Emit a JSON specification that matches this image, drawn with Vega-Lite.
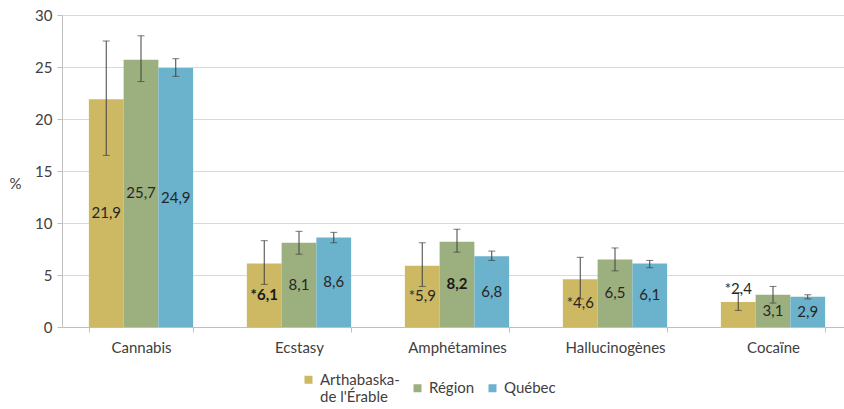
{
  "$schema": "https://vega.github.io/schema/vega-lite/v6.json",
  "width": 790,
  "height": 312,
  "autosize": "none",
  "padding": {"left": 62, "top": 15, "right": 0, "bottom": 82},
  "background": "white",
  "config": {
    "font": "Lato",
    "view": {"stroke": null},
    "axis": {"labelFont": "Lato", "labelFontSize": 15, "labelColor": "#404040", "titleFont": "Lato", "domainColor": "#BFBFBF", "tickColor": "#BFBFBF", "gridColor": "#D9D9D9"}
  },
  "data": {
    "values": [
      {"cat": "Cannabis", "grp": "Arthabaska-de l'Érable", "value": 21.9, "lo": 16.5, "hi": 27.5, "label": "21,9", "sig": 0},
      {"cat": "Cannabis", "grp": "Région", "value": 25.7, "lo": 23.6, "hi": 28.0, "label": "25,7", "sig": 0},
      {"cat": "Cannabis", "grp": "Québec", "value": 24.9, "lo": 24.1, "hi": 25.8, "label": "24,9", "sig": 0},
      {"cat": "Ecstasy", "grp": "Arthabaska-de l'Érable", "value": 6.1, "lo": 4.1, "hi": 8.3, "label": "*6,1", "sig": 1},
      {"cat": "Ecstasy", "grp": "Région", "value": 8.1, "lo": 7.0, "hi": 9.2, "label": "8,1", "sig": 0},
      {"cat": "Ecstasy", "grp": "Québec", "value": 8.6, "lo": 8.1, "hi": 9.1, "label": "8,6", "sig": 0},
      {"cat": "Amphétamines", "grp": "Arthabaska-de l'Érable", "value": 5.9, "lo": 3.9, "hi": 8.1, "label": "*5,9", "sig": 0},
      {"cat": "Amphétamines", "grp": "Région", "value": 8.2, "lo": 7.2, "hi": 9.4, "label": "8,2", "sig": 1},
      {"cat": "Amphétamines", "grp": "Québec", "value": 6.8, "lo": 6.4, "hi": 7.3, "label": "6,8", "sig": 0},
      {"cat": "Hallucinogènes", "grp": "Arthabaska-de l'Érable", "value": 4.6, "lo": 2.7, "hi": 6.7, "label": "*4,6", "sig": 0},
      {"cat": "Hallucinogènes", "grp": "Région", "value": 6.5, "lo": 5.4, "hi": 7.6, "label": "6,5", "sig": 0},
      {"cat": "Hallucinogènes", "grp": "Québec", "value": 6.1, "lo": 5.7, "hi": 6.4, "label": "6,1", "sig": 0},
      {"cat": "Cocaïne", "grp": "Arthabaska-de l'Érable", "value": 2.4, "lo": 1.6, "hi": 3.3, "label": "*2,4", "sig": 0},
      {"cat": "Cocaïne", "grp": "Région", "value": 3.1, "lo": 2.3, "hi": 3.9, "label": "3,1", "sig": 0},
      {"cat": "Cocaïne", "grp": "Québec", "value": 2.9, "lo": 2.7, "hi": 3.1, "label": "2,9", "sig": 0}
    ]
  },
  "encoding": {
    "x": {
      "field": "cat", "type": "nominal",
      "sort": ["Cannabis", "Ecstasy", "Amphétamines", "Hallucinogènes", "Cocaïne"],
      "scale": {"paddingInner": 0.34, "paddingOuter": 0.17},
      "axis": {"title": null, "labelAngle": 0, "tickBand": "extent", "tickSize": 5, "labelPadding": 8, "domainColor": "#BFBFBF"}
    },
    "xOffset": {
      "field": "grp", "type": "nominal",
      "sort": ["Arthabaska-de l'Érable", "Région", "Québec"],
      "scale": {"paddingInner": 0, "paddingOuter": 0}
    }
  },
  "layer": [
    {
      "mark": {"type": "bar"},
      "encoding": {
        "y": {
          "field": "value", "type": "quantitative",
          "scale": {"domain": [0, 30]},
          "axis": {"values": [0, 5, 10, 15, 20, 25, 30], "title": "%", "titleAngle": 0, "titleFontSize": 15, "titleFontWeight": "normal", "titleColor": "#404040", "titleX": -47, "titleY": 176, "tickSize": 5, "labelPadding": 5}
        },
        "color": {
          "field": "grp", "type": "nominal",
          "scale": {"domain": ["Arthabaska-de l'Érable", "Région", "Québec"], "range": ["#CDB864", "#9CB07F", "#6BB2CC"]},
          "legend": {
            "title": null, "orient": "none", "direction": "horizontal",
            "legendX": 239, "legendY": 357,
            "symbolType": "square", "symbolSize": 64, "symbolStrokeWidth": 0,
            "labelFontSize": 15, "labelColor": "#404040", "labelFont": "Lato",
            "labelExpr": "datum.label == \"Arthabaska-de l'Érable\" ? ['Arthabaska-', \"de l'Érable\"] : datum.label",
            "columnPadding": 10, "labelOffset": 4
          }
        }
      }
    },
    {
      "mark": {"type": "rule", "color": "#404040", "strokeWidth": 1},
      "encoding": {
        "y": {"field": "lo", "type": "quantitative"},
        "y2": {"field": "hi"}
      }
    },
    {
      "mark": {"type": "tick", "color": "#404040", "size": 7, "thickness": 1},
      "encoding": {"y": {"field": "lo", "type": "quantitative"}}
    },
    {
      "mark": {"type": "tick", "color": "#404040", "size": 7, "thickness": 1},
      "encoding": {"y": {"field": "hi", "type": "quantitative"}}
    },
    {
      "transform": [{"filter": "datum.value >= 2.5 && datum.sig == 0"}, {"calculate": "datum.value / 2", "as": "mid"}],
      "mark": {"type": "text", "fontSize": 15, "color": "#262626", "baseline": "middle"},
      "encoding": {
        "y": {"field": "mid", "type": "quantitative"},
        "text": {"field": "label"}
      }
    },
    {
      "transform": [{"filter": "datum.sig == 1"}, {"calculate": "datum.value / 2", "as": "mid"}],
      "mark": {"type": "text", "fontSize": 15, "color": "#1A1A1A", "baseline": "middle", "fontWeight": "bold"},
      "encoding": {
        "y": {"field": "mid", "type": "quantitative"},
        "text": {"field": "label"}
      }
    },
    {
      "transform": [{"filter": "datum.value < 2.5"}],
      "mark": {"type": "text", "fontSize": 15, "color": "#262626", "baseline": "bottom", "dy": 4},
      "encoding": {
        "y": {"field": "hi", "type": "quantitative"},
        "text": {"field": "label"}
      }
    }
  ]
}
